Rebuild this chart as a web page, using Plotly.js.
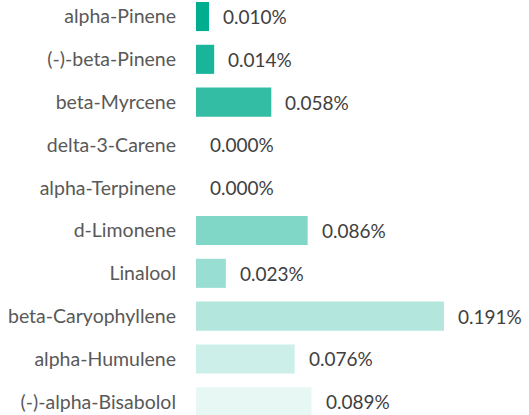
<!DOCTYPE html>
<html>
<head>
<meta charset="utf-8">
<script src="https://cdn.plot.ly/plotly-3.0.1.min.js"></script>
<style>html,body{margin:0;padding:0;background:#fff;}#chart{width:529px;height:415px;}</style>
</head>
<body>
<div id="chart"></div>
<script>
const categories = ["alpha-Pinene","(-)-beta-Pinene","beta-Myrcene","delta-3-Carene","alpha-Terpinene","d-Limonene","Linalool","beta-Caryophyllene","alpha-Humulene","(-)-alpha-Bisabolol"];
const values = [0.010, 0.014, 0.058, 0.000, 0.000, 0.086, 0.023, 0.191, 0.076, 0.089];
const opacities = [1.0, 0.9, 0.8, 0.7, 0.6, 0.5, 0.4, 0.3, 0.2, 0.1];
const baseRGB = [0, 173, 143];

const colors = opacities.map(a => {
  const c = baseRGB.map(v => Math.round(a * v + (1 - a) * 255));
  return `rgb(${c[0]},${c[1]},${c[2]})`;
});

const trace = {
  type: 'bar',
  orientation: 'h',
  x: values,
  y: categories,
  width: 0.68,
  marker: {color: colors, line: {width: 0}},
  hoverinfo: 'none'
};

const annotations = categories.map((c, i) => ({
  x: values[i], y: c, xref: 'x', yref: 'y',
  text: values[i].toFixed(3) + '%',
  showarrow: false, xanchor: 'left', yanchor: 'middle',
  xshift: 12,
  font: {family: 'Lato, "Open Sans", sans-serif', size: 19, color: '#404040'}
}));

const layout = {
  width: 529, height: 415,
  margin: {l: 196, r: 0, t: 0, b: 0},
  paper_bgcolor: '#fff', plot_bgcolor: '#fff',
  showlegend: false,
  xaxis: {range: [0, 0.2565], visible: false, fixedrange: true},
  yaxis: {
    type: 'category',
    categoryorder: 'array', categoryarray: categories,
    range: [9.31, -0.386],
    showgrid: false, zeroline: false, showline: false, ticks: '',
    ticklabelstandoff: 19,
    tickfont: {family: 'Lato, "Open Sans", sans-serif', size: 19.5, color: '#595959'}
  },
  annotations: annotations
};

Plotly.newPlot('chart', [trace], layout, {displayModeBar: false, staticPlot: true});
</script>
</body>
</html>
